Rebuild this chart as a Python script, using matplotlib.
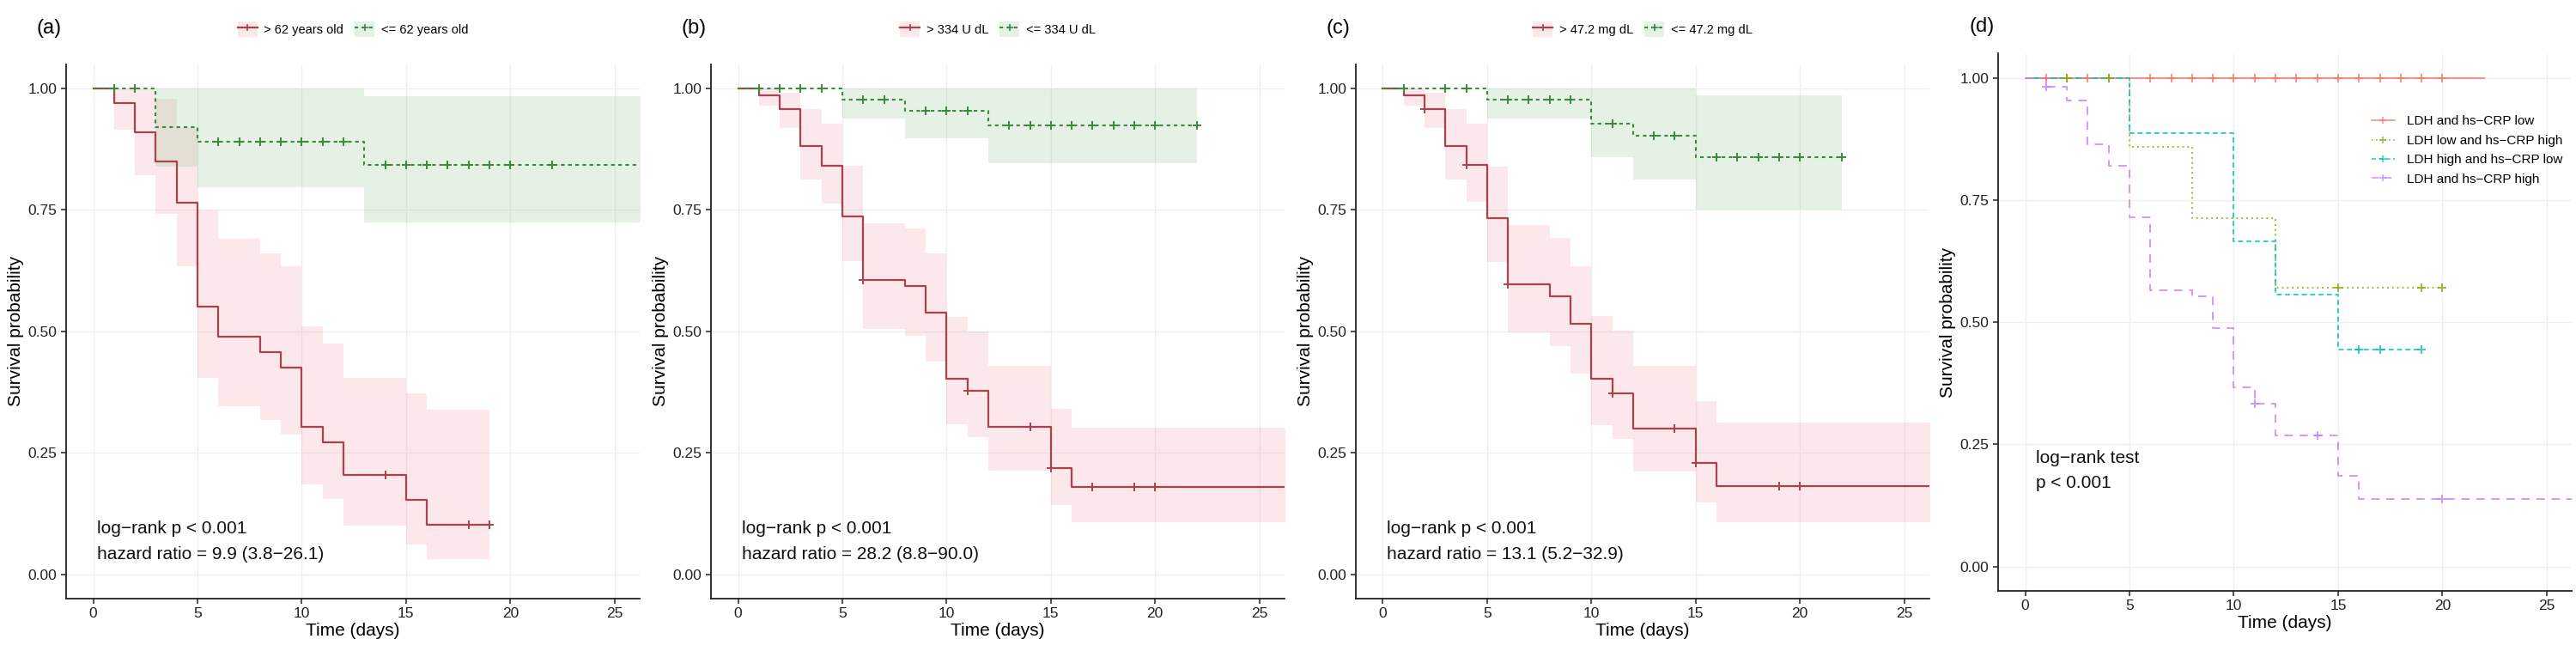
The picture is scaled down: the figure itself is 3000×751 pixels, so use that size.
import numpy as np
import matplotlib
matplotlib.use("Agg")
import matplotlib.pyplot as plt
from matplotlib.lines import Line2D
from matplotlib.patches import Patch

plt.rcParams['font.family'] = ['Liberation Sans', 'DejaVu Sans']

# ---------------- data ----------------
# Panel (a): age
a_hi_t = [0, 1, 2, 3, 4, 5, 6, 8, 9, 10, 11, 12, 15, 16]
a_hi_s = [1, 0.969, 0.910, 0.850, 0.764, 0.550, 0.489, 0.458, 0.426, 0.304, 0.272, 0.204, 0.153, 0.102]
a_hi_lo = [1, 0.915, 0.821, 0.741, 0.634, 0.404, 0.345, 0.317, 0.288, 0.185, 0.155, 0.101, 0.062, 0.031]
a_hi_up = [1, 1.0, 1.0, 0.978, 0.919, 0.749, 0.691, 0.661, 0.634, 0.511, 0.475, 0.405, 0.373, 0.338]
a_hi_end = 19
a_hi_cens = [14, 18, 19]
a_lo_t = [0, 3, 5, 13]
a_lo_s = [1, 0.921, 0.890, 0.842]
a_lo_lo = [1, 0.838, 0.797, 0.724]
a_lo_up = [1, 1.0, 1.0, 0.984]
a_lo_end = 27
a_lo_cens = [1, 2, 6, 7, 8, 9, 10, 11, 12, 14, 15, 16, 17, 18, 19, 20, 22]
a_labels = ["> 62 years old", "<= 62 years old"]
a_text = ["log\u2212rank p < 0.001", "hazard ratio = 9.9 (3.8\u221226.1)"]

# Panel (b): LDH
b_hi_t = [0, 1, 2, 3, 4, 5, 6, 8, 9, 10, 11, 12, 15, 16]
b_hi_s = [1, 0.986, 0.958, 0.881, 0.841, 0.737, 0.606, 0.594, 0.539, 0.403, 0.377, 0.303, 0.218, 0.179]
b_hi_lo = [1, 0.964, 0.919, 0.813, 0.763, 0.644, 0.505, 0.491, 0.437, 0.309, 0.282, 0.214, 0.142, 0.107]
b_hi_up = [1, 1.0, 0.99, 0.958, 0.927, 0.841, 0.722, 0.712, 0.661, 0.530, 0.500, 0.428, 0.341, 0.301]
b_hi_end = 27
b_hi_cens = [6, 11, 14, 15, 17, 19, 20]
b_lo_t = [0, 5, 8, 12]
b_lo_s = [1, 0.976, 0.953, 0.924]
b_lo_lo = [1, 0.937, 0.898, 0.846]
b_lo_up = [1, 1.0, 1.0, 1.0]
b_lo_end = 22
b_lo_cens = [1, 2, 3, 4, 6, 7, 9, 10, 11, 13, 14, 15, 16, 17, 18, 19, 20, 22]
b_labels = ["> 334 U dL", "<= 334 U dL"]
b_text = ["log\u2212rank p < 0.001", "hazard ratio = 28.2 (8.8\u221290.0)"]

# Panel (c): hs-CRP
c_hi_t = [0, 1, 2, 3, 4, 5, 6, 8, 9, 10, 11, 12, 15, 16]
c_hi_s = [1, 0.986, 0.958, 0.881, 0.843, 0.733, 0.597, 0.572, 0.515, 0.403, 0.373, 0.299, 0.229, 0.182]
c_hi_lo = [1, 0.964, 0.919, 0.813, 0.766, 0.642, 0.498, 0.470, 0.413, 0.307, 0.278, 0.212, 0.148, 0.108]
c_hi_up = [1, 1.0, 0.99, 0.958, 0.927, 0.838, 0.718, 0.693, 0.633, 0.532, 0.502, 0.428, 0.356, 0.313]
c_hi_end = 27
c_hi_cens = [2, 4, 6, 11, 14, 15, 19, 20]
c_lo_t = [0, 5, 10, 12, 15]
c_lo_s = [1, 0.976, 0.928, 0.903, 0.859]
c_lo_lo = [1, 0.937, 0.858, 0.813, 0.750]
c_lo_up = [1, 1.0, 1.0, 1.0, 0.985]
c_lo_end = 22
c_lo_cens = [1, 3, 4, 6, 7, 8, 9, 11, 13, 14, 16, 17, 18, 19, 20, 22]
c_labels = ["> 47.2 mg dL", "<= 47.2 mg dL"]
c_text = ["log\u2212rank p < 0.001", "hazard ratio = 13.1 (5.2\u221232.9)"]

# Panel (d): combined
d_labels = ["LDH and hs\u2212CRP low", "LDH low and hs\u2212CRP high",
            "LDH high and hs\u2212CRP low", "LDH and hs\u2212CRP high"]
d1_t = [0]
d1_s = [1]
d1_end = 22
d1_cens = [1, 2, 3, 4, 6, 7, 8, 9, 10, 11, 12, 13, 14, 15, 16, 17, 18, 19, 20]
d2_t = [0, 5, 8, 12]
d2_s = [1, 0.859, 0.714, 0.571]
d2_end = 20
d2_cens = [2, 4, 15, 19, 20]
d3_t = [0, 5, 10, 12, 15]
d3_s = [1, 0.888, 0.666, 0.556, 0.444]
d3_end = 19
d3_cens = [16, 17, 19]
d4_t = [0, 1, 2, 3, 4, 5, 6, 8, 9, 10, 11, 12, 15, 16]
d4_s = [1, 0.983, 0.955, 0.865, 0.820, 0.715, 0.566, 0.554, 0.489, 0.366, 0.334, 0.269, 0.186, 0.138]
d4_end = 27
d4_cens = [1, 11, 14, 20]
d_text = ["log\u2212rank test", "p < 0.001"]

x_ticks = [0, 5, 10, 15, 20, 25]
y_ticks = [0.00, 0.25, 0.50, 0.75, 1.00]

# ---------------- style ----------------
RED = '#A8424C'
RED_FILL = '#F08C96'
GREEN = '#3B8A3B'
GREEN_FILL = '#7DB97D'
D_COLORS = ['#F8766D', '#7CAE00', '#00BFC4', '#C77CFF']
D_LS = ['-', (0, (1, 2)), (0, (3, 2)), (0, (5, 4))]
GREEN_LS = (0, (2, 2))

W, H = 3000, 751
fig = plt.figure(figsize=(W / 100, H / 100), dpi=100)


def km(ax, t, s, end, cens, color, ls, lw=1.6, lo=None, up=None, fill=None, alpha=1.0):
    x = list(t) + [end]
    y = list(s) + [s[-1]]
    if lo is not None:
        ax.fill_between(x, list(lo) + [lo[-1]], list(up) + [up[-1]], step='post',
                        color=fill, alpha=0.2, lw=0, zorder=1)
    ax.step(x, y, where='post', color=color, ls=ls, lw=lw, zorder=3, alpha=alpha)
    tt = np.array(t)
    cy = [s[np.searchsorted(tt, c, side='right') - 1] for c in cens]
    ax.plot(cens, cy, ls='none', marker='+', ms=7, mew=1.4, color=color, zorder=4,
            alpha=alpha)


def style(ax):
    ax.set_xlim(-1.3, 26.2)
    ax.set_ylim(-0.05, 1.05)
    ax.set_xticks(x_ticks)
    ax.set_yticks(y_ticks)
    ax.set_yticklabels([f"{v:.2f}" for v in y_ticks])
    for sp in ['top', 'right']:
        ax.spines[sp].set_visible(False)
    for sp in ['left', 'bottom']:
        ax.spines[sp].set_linewidth(1.3)
        ax.spines[sp].set_color('#222222')
    ax.tick_params(axis='both', labelsize=12.5, length=4, width=1.1,
                   colors='#222222', direction='out')
    ax.grid(True, color='#EEEEEE', lw=0.9)
    ax.set_axisbelow(True)
    ax.set_xlabel("Time (days)", fontsize=15)
    ax.set_ylabel("Survival probability", fontsize=15)
    ax.yaxis.set_label_coords(-0.073, 0.5)
    ax.xaxis.set_label_coords(0.5, -0.045)


abc_pos = [0.02567, 0.2760, 0.5263]
ax_w = 0.2226
ax_b = 1 - 697 / H
ax_h = (697 - 74.5) / H

panels = [
    (a_hi_t, a_hi_s, a_hi_lo, a_hi_up, a_hi_end, a_hi_cens,
     a_lo_t, a_lo_s, a_lo_lo, a_lo_up, a_lo_end, a_lo_cens, a_labels, a_text, "(a)"),
    (b_hi_t, b_hi_s, b_hi_lo, b_hi_up, b_hi_end, b_hi_cens,
     b_lo_t, b_lo_s, b_lo_lo, b_lo_up, b_lo_end, b_lo_cens, b_labels, b_text, "(b)"),
    (c_hi_t, c_hi_s, c_hi_lo, c_hi_up, c_hi_end, c_hi_cens,
     c_lo_t, c_lo_s, c_lo_lo, c_lo_up, c_lo_end, c_lo_cens, c_labels, c_text, "(c)"),
]

for left, p in zip(abc_pos, panels):
    (ht, hs, hlo, hup, hend, hc, lt, ls_, llo, lup, lend, lc, labels, txt, tag) = p
    ax = fig.add_axes([left, ax_b, ax_w, ax_h])
    km(ax, ht, hs, hend, hc, RED, '-', lo=hlo, up=hup, fill=RED_FILL)
    km(ax, lt, ls_, lend, lc, GREEN, GREEN_LS, lw=1.5, lo=llo, up=lup, fill=GREEN_FILL)
    style(ax)
    ax.text(0.2, 0.094, txt[0], fontsize=15, va='center', ha='left', color='#111111')
    ax.text(0.2, 0.041, txt[1], fontsize=15, va='center', ha='left', color='#111111')
    h1 = (Patch(facecolor=RED_FILL, alpha=0.2, lw=0),
          Line2D([], [], color=RED, lw=1.6, marker='+', ms=6, mew=1.2))
    h2 = (Patch(facecolor=GREEN_FILL, alpha=0.2, lw=0),
          Line2D([], [], color=GREEN, lw=1.5, ls=GREEN_LS, marker='+', ms=6, mew=1.2))
    ax.legend([h1, h2], labels, loc='center', ncol=2, frameon=False, fontsize=10.5,
              bbox_to_anchor=(left + ax_w / 2, 1 - 34 / H), bbox_transform=fig.transFigure,
              handlelength=1.6, handleheight=1.6, columnspacing=0.9, handletextpad=0.5)
    fig.text(left - 0.0115, 1 - 33 / H, tag, fontsize=17, va='center', ha='left')

# panel (d)
d_left = 2327 / W
d_b = 1 - 688 / H
d_h = (688 - 62.5) / H
axd = fig.add_axes([d_left, d_b, 668 / W, d_h])
d_series = [(d1_t, d1_s, d1_end, d1_cens), (d2_t, d2_s, d2_end, d2_cens),
            (d3_t, d3_s, d3_end, d3_cens), (d4_t, d4_s, d4_end, d4_cens)]
handles = []
for (t, s, end, cens), col, lsd in zip(d_series, D_COLORS, D_LS):
    km(axd, t, s, end, cens, col, lsd, lw=1.4, alpha=0.8)
    handles.append(Line2D([], [], color=col, ls=lsd, lw=1.2, marker='+', ms=6, mew=1.1,
                          alpha=0.8))
style(axd)
axd.text(0.5, 0.222, d_text[0], fontsize=15, va='center', ha='left', color='#111111')
axd.text(0.5, 0.170, d_text[1], fontsize=15, va='center', ha='left', color='#111111')
axd.legend(handles, d_labels, loc='center left', bbox_to_anchor=(0.63, 0.82),
           frameon=False, fontsize=11, handlelength=1.8, handletextpad=0.9,
           labelspacing=0.55)
fig.text(d_left - 0.0113, 1 - 31 / H, "(d)", fontsize=17, va='center', ha='left')

fig.savefig("out.png", dpi=100, facecolor='white')
